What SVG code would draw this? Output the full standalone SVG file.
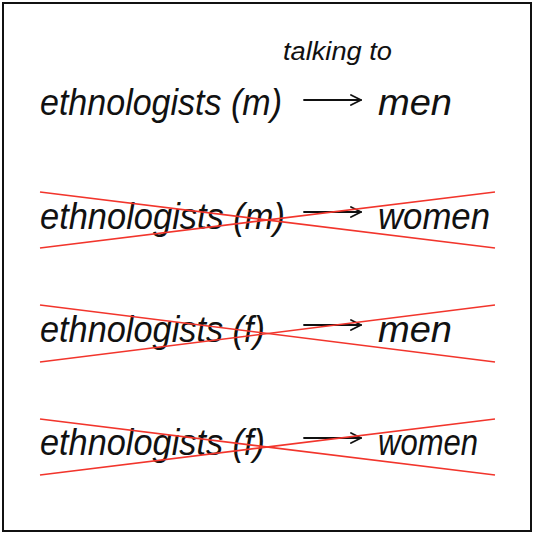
<svg xmlns="http://www.w3.org/2000/svg" width="535" height="535" viewBox="0 0 535 535">
<style>
.t{font-family:"Liberation Sans","DejaVu Sans",sans-serif;font-style:italic;font-size:37px;fill:#111}
.s{font-family:"Liberation Sans","DejaVu Sans",sans-serif;font-style:italic;font-size:26px;fill:#111}
.a{stroke:#111;stroke-width:1.8;fill:none;stroke-linecap:round;stroke-linejoin:round}
.x{stroke:#f2352c;stroke-width:1.6;fill:none}
</style>
<defs>
<marker id="ah" viewBox="0 0 12 12" refX="11" refY="6" markerWidth="12" markerHeight="12" markerUnits="userSpaceOnUse" orient="auto">
<path d="M1,1 L11,6 L1,11" stroke="#111" stroke-width="1.8" fill="none" stroke-linecap="round" stroke-linejoin="round"/>
</marker>
</defs>
<rect x="0" y="0" width="535" height="535" fill="#fff"/>
<rect x="3" y="3" width="528" height="528" fill="#fff" stroke="#111" stroke-width="2"/>
<g id="row1">
<text class="s" x="283" y="60" textLength="109" lengthAdjust="spacingAndGlyphs">talking to</text>
<text class="t" x="40" y="115" textLength="242" lengthAdjust="spacingAndGlyphs">ethnologists (m)</text>
<text class="t" x="378" y="115" textLength="74" lengthAdjust="spacingAndGlyphs">men</text>
</g>
<g id="row2">
<text class="t" x="40" y="229" textLength="245" lengthAdjust="spacingAndGlyphs">ethnologists (m)</text>
<text class="t" x="378" y="229" textLength="112" lengthAdjust="spacingAndGlyphs">women</text>
</g>
<g id="row3">
<text class="t" x="40" y="342" textLength="225" lengthAdjust="spacingAndGlyphs">ethnologists (f)</text>
<text class="t" x="378" y="342" textLength="74" lengthAdjust="spacingAndGlyphs">men</text>
</g>
<g id="row4">
<text class="t" x="40" y="455" textLength="225" lengthAdjust="spacingAndGlyphs">ethnologists (f)</text>
<text class="t" x="378" y="455" textLength="100" lengthAdjust="spacingAndGlyphs">women</text>
</g>
<g id="connectors">
<line class="a" x1="304" y1="100" x2="361" y2="100" marker-end="url(#ah)"/>
<line class="a" x1="304" y1="212" x2="361" y2="212" marker-end="url(#ah)"/>
<line class="a" x1="304" y1="325" x2="361" y2="325" marker-end="url(#ah)"/>
<line class="a" x1="304" y1="438" x2="361" y2="438" marker-end="url(#ah)"/>
</g>
<g id="crossouts">
<line class="x" x1="40" y1="192" x2="495" y2="248"/>
<line class="x" x1="40" y1="248" x2="495" y2="192"/>
<line class="x" x1="40" y1="305" x2="495" y2="362"/>
<line class="x" x1="40" y1="362" x2="495" y2="305"/>
<line class="x" x1="40" y1="419" x2="495" y2="475"/>
<line class="x" x1="40" y1="475" x2="495" y2="419"/>
</g>
</svg>
